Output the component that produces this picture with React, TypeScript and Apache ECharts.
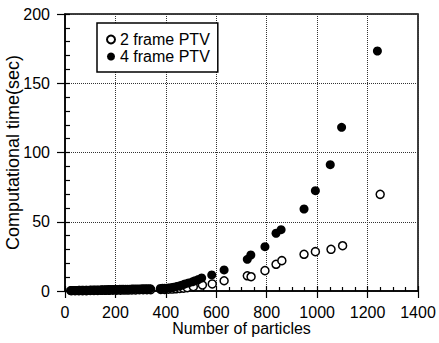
import React, { useEffect, useRef } from "react";
import * as echarts from "echarts";

const twoFrameX = [25, 40, 55, 70, 85, 100, 115, 130, 145, 160, 175, 190, 205, 220, 235, 250, 265, 280, 295, 310, 325, 340, 380, 395, 410, 425, 440, 455, 470, 485, 509, 545, 584, 631, 723, 738, 793, 837, 860, 948, 993, 1055, 1101, 1250];
const twoFrameY = [0.2, 0.2, 0.3, 0.3, 0.3, 0.4, 0.4, 0.4, 0.5, 0.5, 0.5, 0.6, 0.6, 0.6, 0.7, 0.7, 0.8, 0.8, 0.9, 0.9, 1.0, 1.0, 1.1, 1.2, 1.3, 1.4, 1.6, 1.8, 2.0, 2.4, 3.1, 4.3, 5.1, 7.4, 11.0, 10.3, 14.7, 19.3, 21.9, 26.5, 28.4, 30.1, 32.7, 69.8];

const fourFrameX = [22, 28, 35, 42, 50, 57, 64, 72, 80, 87, 95, 102, 110, 118, 125, 133, 141, 148, 156, 164, 171, 179, 187, 195, 202, 210, 218, 226, 233, 241, 249, 257, 265, 272, 280, 288, 296, 305, 313, 321, 330, 338, 378, 386, 394, 402, 410, 420, 430, 442, 456, 466, 476, 490, 505, 516, 529, 542, 582, 631, 723, 737, 793, 837, 857, 948, 993, 1052, 1097, 1239];
const fourFrameY = [0.3, 0.3, 0.4, 0.4, 0.4, 0.5, 0.5, 0.5, 0.6, 0.6, 0.6, 0.7, 0.7, 0.7, 0.8, 0.8, 0.8, 0.9, 0.9, 0.9, 1.0, 1.0, 1.0, 1.1, 1.1, 1.1, 1.2, 1.2, 1.2, 1.3, 1.3, 1.3, 1.4, 1.4, 1.4, 1.5, 1.5, 1.6, 1.6, 1.6, 1.7, 1.7, 1.8, 1.9, 2.0, 2.0, 2.1, 2.4, 2.7, 3.2, 3.8, 4.4, 5.1, 5.8, 6.6, 7.4, 8.3, 9.4, 11.6, 15.2, 22.9, 26.0, 32.0, 41.7, 44.3, 59.2, 72.4, 91.2, 118.2, 173.3];

const seriesNames = ["2 frame PTV", "4 frame PTV"];
const xTitle = "Number of particles";
const yTitle = "Computational time(sec)";

const FONT = "'Liberation Sans', Arial, Helvetica, sans-serif";

export default function App() {
  const ref = useRef<HTMLDivElement>(null);
  useEffect(() => {
    if (!ref.current) return;
    const chart = echarts.init(ref.current, null, { renderer: "svg" });
    const twoData = twoFrameX.map((x, i) => [x, twoFrameY[i]]);
    const fourData = fourFrameX.map((x, i) => [x, fourFrameY[i]]);
    const baseX = { type: "value", min: 0, max: 1400, interval: 200, position: "bottom" };
    const baseY = { type: "value", min: 0, max: 200, interval: 50, position: "left" };
    const tickLine = { color: "#000", width: 1.2 };
    chart.setOption({
      animation: false,
      backgroundColor: "#fff",
      textStyle: { fontFamily: FONT },
      grid: {
        left: 65, right: 21, top: 14, bottom: 52,
        outerBoundsMode: "none",
        containLabel: false,
        show: true, borderColor: "#000", borderWidth: 1.5, backgroundColor: "transparent",
      },
      legend: {
        data: [seriesNames[0], seriesNames[1]],
        orient: "vertical",
        left: 97,
        top: 23,
        padding: [8, 8, 7, 9],
        itemGap: 0,
        itemWidth: 8,
        itemHeight: 8,
        itemTextGap: 9,
        backgroundColor: "#fff",
        borderColor: "#000",
        borderWidth: 1.5,
        textStyle: { fontFamily: FONT, fontSize: 16, lineHeight: 17, color: "#000" },
      },
      xAxis: [
        {
          ...baseX,
          name: xTitle,
          nameLocation: "middle",
          nameGap: 29,
          nameMoveOverlap: false,
          nameTextStyle: { fontFamily: FONT, fontSize: 16, color: "#000" },
          axisLine: { onZero: false, lineStyle: { color: "#000", width: 1.5 } },
          axisTick: { show: true, inside: true, length: 5, lineStyle: tickLine },
          axisLabel: { fontFamily: FONT, fontSize: 16, color: "#000", margin: 13, formatter: (v: number) => String(v) },
          splitLine: { show: true, lineStyle: { type: "dotted", color: "#333", width: 1 } },
          minorTick: { show: true, splitNumber: 4, length: 4, lineStyle: tickLine },
        },
        {
          ...baseX,
          axisLine: { show: false, onZero: false },
          axisTick: { show: true, inside: false, length: 7, lineStyle: tickLine },
          axisLabel: { show: false },
          splitLine: { show: false },
          minorTick: { show: false },
        },
      ],
      yAxis: [
        {
          ...baseY,
          name: yTitle,
          nameLocation: "middle",
          nameRotate: 90,
          nameGap: 43,
          nameMoveOverlap: false,
          nameTextStyle: { fontFamily: FONT, fontSize: 18, color: "#000" },
          axisLine: { onZero: false, lineStyle: { color: "#000", width: 1.5 } },
          axisTick: { show: true, inside: true, length: 5, lineStyle: tickLine },
          axisLabel: { fontFamily: FONT, fontSize: 16, color: "#000", margin: 15, formatter: (v: number) => String(v) },
          splitLine: { show: true, lineStyle: { type: "dotted", color: "#333", width: 1 } },
          minorTick: { show: true, splitNumber: 5, length: 5, lineStyle: tickLine },
        },
        {
          ...baseY,
          axisLine: { show: false, onZero: false },
          axisTick: { show: true, inside: false, length: 8, lineStyle: tickLine },
          axisLabel: { show: false },
          splitLine: { show: false },
          minorTick: { show: false },
        },
      ],
      series: [
        {
          name: seriesNames[0],
          type: "scatter",
          symbol: "circle",
          symbolSize: 8,
          itemStyle: { color: "#fff", borderColor: "#000", borderWidth: 1.5, opacity: 1 },
          data: twoData,
          z: 2,
        },
        {
          name: seriesNames[1],
          type: "scatter",
          symbol: "circle",
          symbolSize: 9,
          itemStyle: { color: "#000", opacity: 1 },
          data: fourData,
          z: 3,
        },
      ],
    });
    return () => chart.dispose();
  }, []);
  return <div ref={ref} style={{ width: 439, height: 343, position: "absolute", left: 0, top: 0 }} />;
}
